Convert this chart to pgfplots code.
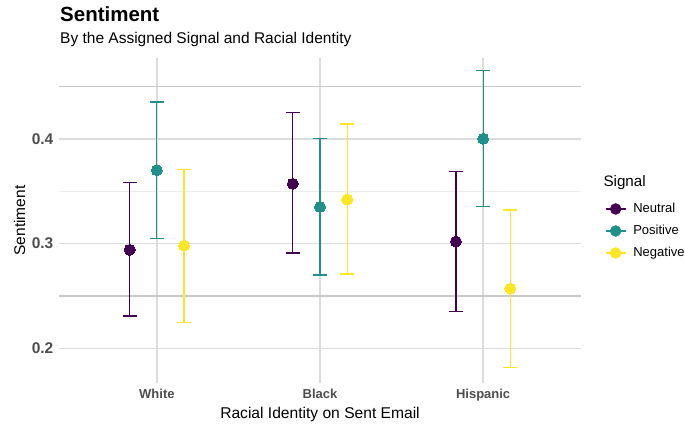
\documentclass[border=0pt]{standalone}
\usepackage{pgfplots}
\pgfplotsset{compat=1.18}
\usepackage{pgfplotstable}
\usepackage{fontspec}
\setmainfont{Liberation Sans}
\definecolor{cneu}{HTML}{440154}
\definecolor{cpos}{HTML}{21908C}
\definecolor{cneg}{HTML}{FDE725}
\definecolor{tickgray}{HTML}{4D4D4D}
\definecolor{gridmaj}{HTML}{DCDCDC}
\definecolor{gridmin}{HTML}{EBEBEB}
\definecolor{griddark}{HTML}{C8C8C8}

\pgfplotstableread{
x y ep em
0.8333 0.294 0.064 0.063
1.8333 0.357 0.068 0.066
2.8333 0.302 0.067 0.0665
}\neutral
\pgfplotstableread{
x y ep em
1 0.370 0.065 0.065
2 0.335 0.065 0.065
3 0.400 0.065 0.0645
}\positive
\pgfplotstableread{
x y ep em
1.1667 0.298 0.073 0.073
2.1667 0.342 0.072 0.071
3.1667 0.257 0.075 0.0754
}\negative

\pgfplotsset{
  ebar/.style={forget plot, no marks, draw=none,
    error bars/.cd, y dir=both, y explicit,
    error bar style={line width=1.2bp, draw=#1},
    error mark options={draw=#1, line width=1.2bp, mark size=7bp, rotate=90}},
  pts/.style={forget plot, only marks, mark=*, mark size=5.5bp,
    mark options={draw=#1, fill=#1, line width=0pt}},
}

\begin{document}
\begin{tikzpicture}
\useasboundingbox (0,0) rectangle (685bp,425bp);
\begin{axis}[
  at={(59bp,42bp)}, anchor=south west,
  scale only axis, width=522bp, height=325bp,
  xmin=0.4, xmax=3.6, ymin=0.167, ymax=0.477,
  axis line style={draw=none},
  major tick length=0pt, minor tick length=0pt,
  xtick={1,2,3}, xticklabels={White,Black,Hispanic},
  ytick={0.2,0.3,0.4}, yticklabels={0.2,0.3,0.4},
  minor ytick={0.35},
  extra y ticks={0.25,0.45}, extra y tick labels={},
  extra y tick style={grid=major, major grid style={color=griddark, line width=1.2bp}},
  xmajorgrids, ymajorgrids, yminorgrids,
  major grid style={color=gridmaj, line width=1.8bp},
  minor grid style={color=gridmin, line width=1.1bp},
  xticklabel style={font=\fontsize{13bp}{15bp}\selectfont\bfseries, text=tickgray, anchor=base, inner sep=0pt, yshift=-16bp},
  yticklabel style={font=\fontsize{15.5bp}{18bp}\selectfont\bfseries, text=tickgray, anchor=east, inner sep=0pt, xshift=-5.5bp},
  clip=false,
  legend cell align=left,
  legend image code/.code={\draw[line width=1.3bp,#1] (0bp,0bp) -- (20bp,0bp); \fill[#1] (10bp,0bp) circle (5.5bp);},
  legend style={at={(axis description cs:1.046,0.4677)}, anchor=west, draw=none, fill=none,
    inner sep=0pt, outer sep=0pt, row sep=9.5bp,
    font=\fontsize{13bp}{15bp}\selectfont,
    nodes={inner sep=0pt, text height=9.5bp, text depth=3bp},
    /tikz/every odd column/.style={column sep=7bp}},
]
\addplot[ebar=cneu] table[x=x, y=y, y error plus=ep, y error minus=em] {\neutral};
\addplot[ebar=cpos] table[x=x, y=y, y error plus=ep, y error minus=em] {\positive};
\addplot[ebar=cneg] table[x=x, y=y, y error plus=ep, y error minus=em] {\negative};
\addplot[pts=cneu] table[x=x, y=y] {\neutral};
\addplot[pts=cpos] table[x=x, y=y] {\positive};
\addplot[pts=cneg] table[x=x, y=y] {\negative};
\addlegendimage{color=cneu}
\addlegendentry{Neutral}
\addlegendimage{color=cpos}
\addlegendentry{Positive}
\addlegendimage{color=cneg}
\addlegendentry{Negative}
\end{axis}
\node[anchor=base west, inner sep=0pt, font=\fontsize{20.5bp}{24bp}\selectfont\bfseries] at (60bp,403bp) {Sentiment};
\node[anchor=base west, inner sep=0pt, font=\fontsize{15.5bp}{18bp}\selectfont] at (60bp,381bp) {By the Assigned Signal and Racial Identity};
\node[anchor=base, inner sep=0pt, font=\fontsize{15.6bp}{18bp}\selectfont] at (320bp,6.7bp) {Racial Identity on Sent Email};
\node[anchor=base, rotate=90, inner sep=0pt, font=\fontsize{15.5bp}{18bp}\selectfont] at (25bp,204.5bp) {Sentiment};
\node[anchor=base west, inner sep=0pt, font=\fontsize{15.2bp}{18bp}\selectfont] at (603.3bp,238.3bp) {Signal};
\end{tikzpicture}
\end{document}
